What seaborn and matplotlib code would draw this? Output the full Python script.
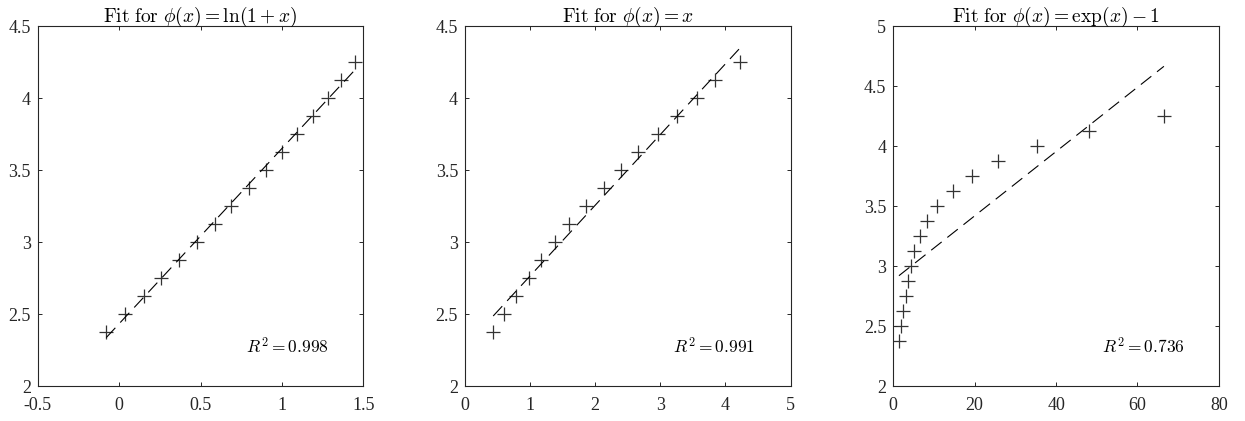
import numpy as np
import seaborn as sns
import pandas as pd
from matplotlib import pyplot as plt
from matplotlib.ticker import FormatStrFormatter, MultipleLocator

# response values, same for all three fits
y_vals = [2.375, 2.5, 2.625, 2.75, 2.875, 3.0, 3.125, 3.25,
          3.375, 3.5, 3.625, 3.75, 3.875, 4.0, 4.125, 4.25]

# transformed inputs
x_log = [-0.079, 0.037, 0.150, 0.257, 0.370, 0.480, 0.587, 0.688,
         0.796, 0.901, 1.002, 1.094, 1.190, 1.283, 1.363, 1.447]
x_lin = [0.433, 0.601, 0.789, 0.983, 1.171, 1.380, 1.604, 1.858,
         2.128, 2.393, 2.658, 2.958, 3.254, 3.559, 3.844, 4.226]
x_exp = [1.39, 1.80, 2.45, 3.11, 3.68, 4.25, 5.07, 6.54,
         8.18, 10.63, 14.56, 19.22, 25.77, 35.42, 48.10, 66.50]

titles = [r"$\mathrm{Fit\ for}\ \phi(x) = \ln(1 + x)$",
          r"$\mathrm{Fit\ for}\ \phi(x) = x$",
          r"$\mathrm{Fit\ for}\ \phi(x) = \exp(x) - 1$"]
r2_labels = ["0.998", "0.991", "0.736"]
x_limits = [(-0.5, 1.5), (0, 5), (0, 80)]
x_steps = [0.5, 1, 20]
y_limits = [(2, 4.5), (2, 4.5), (2, 5)]

plt.rcParams["font.family"] = "serif"
plt.rcParams["font.serif"] = ["Liberation Serif", "DejaVu Serif"]
plt.rcParams["mathtext.fontset"] = "cm"
plt.rcParams["axes.unicode_minus"] = False

fig = plt.figure(figsize=(12.45, 4.21), dpi=100)
lefts = [0.0303, 0.3735, 0.7175]
axes = [fig.add_axes([l, 0.083, 0.2615, 0.855]) for l in lefts]

for i, xs in enumerate([x_log, x_lin, x_exp]):
    ax = axes[i]
    df = pd.DataFrame({"x": xs, "y": y_vals})
    sns.regplot(
        data=df, x="x", y="y", ax=ax, ci=None,
        marker="+", color="black",
        scatter_kws={"s": 105, "linewidths": 0.9},
        line_kws={"lw": 0.8, "dashes": (12, 6.5)},
    )
    ax.set_xlim(*x_limits[i])
    ax.set_ylim(*y_limits[i])
    ax.xaxis.set_major_locator(MultipleLocator(x_steps[i]))
    ax.yaxis.set_major_locator(MultipleLocator(0.5))
    ax.xaxis.set_major_formatter(FormatStrFormatter("%g"))
    ax.yaxis.set_major_formatter(FormatStrFormatter("%g"))
    ax.set_xlabel("")
    ax.set_ylabel("")
    ax.tick_params(direction="in", top=True, right=True, length=3, width=0.7,
                   labelsize=13, colors="#262626")
    ax.tick_params(axis="x", pad=8)
    ax.tick_params(axis="y", pad=5)
    for sp in ax.spines.values():
        sp.set_color("#262626")
        sp.set_linewidth(0.8)
    ax.set_title(titles[i], fontsize=14, pad=3)
    ax.text(0.64, 0.107, r"$R^2 = %s$" % r2_labels[i], transform=ax.transAxes,
            fontsize=12.5, va="center", ha="left")

fig.savefig("out.png", dpi=100)
